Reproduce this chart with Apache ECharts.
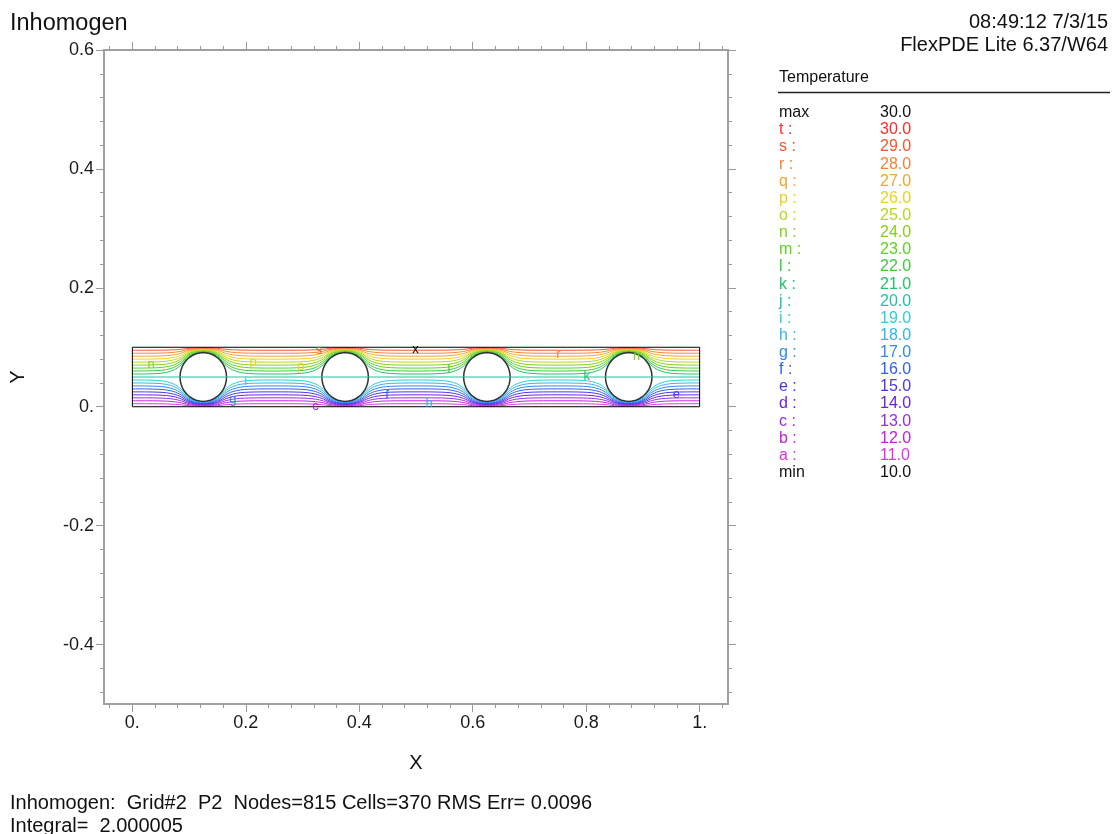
<!DOCTYPE html>
<html><head><meta charset="utf-8">
<script src="https://cdn.jsdelivr.net/npm/echarts@6/dist/echarts.min.js"></script>
<style>html,body{margin:0;padding:0;background:#fff}#c{width:1117px;height:834px}</style>
</head><body><div id="c"></div>
<script>
const FONT = '"Liberation Sans", Arial, sans-serif';

// ---- legend (contour levels) ----
const levelLetters = ['t','s','r','q','p','o','n','m','l','k','j','i','h','g','f','e','d','c','b','a'];
const levelValues  = [30,29,28,27,26,25,24,23,22,21,20,19,18,17,16,15,14,13,12,11];
const levelColors  = ['#ff2a2a','#f8542e','#f5823a','#f0a62c','#e8d41e','#b4d81c','#86d014','#5cd41e','#3ccc38','#22c468','#1ec4a4','#2ccfd8','#30b4f0','#3088f0','#2f5ef0','#4a34f0','#6a22e0','#9a2ae0','#c020e0','#e030e8'];
const maxValue = 30.0;
const minValue = 10.0;
const legendTitle = 'Temperature';

// ---- geometry of the problem ----
const domainX = [0, 1];
const domainY = [0, 0.1];
const circleCentersX = [0.125, 0.375, 0.625, 0.875];
const circleCenterY = 0.05;
const circleRadius = 0.041;
const midLevelY = 0.05;          // level 20 (j)

// ---- contour positions (upper half, one cell, by |dx| from a circle centre) ----
const dxStations = [0, 0.01, 0.02, 0.03, 0.038, 0.045, 0.052, 0.065, 0.08, 0.1, 0.125];
const y21 = [0.0919, 0.0908, 0.0872, 0.0801, 0.0712, 0.0658, 0.0618, 0.0577, 0.0559, 0.0552, 0.0550];
const y22 = [0.0928, 0.0918, 0.0886, 0.0823, 0.0744, 0.0696, 0.0660, 0.0624, 0.0608, 0.0602, 0.0600];
const y23 = [0.0937, 0.0929, 0.0901, 0.0845, 0.0776, 0.0734, 0.0703, 0.0671, 0.0657, 0.0651, 0.0650];
const y24 = [0.0946, 0.0939, 0.0915, 0.0867, 0.0808, 0.0772, 0.0745, 0.0718, 0.0706, 0.0701, 0.0700];
const y25 = [0.0955, 0.0949, 0.0929, 0.0890, 0.0840, 0.0810, 0.0788, 0.0765, 0.0755, 0.0751, 0.0750];
const y26 = [0.0964, 0.0959, 0.0943, 0.0912, 0.0872, 0.0848, 0.0830, 0.0812, 0.0804, 0.0801, 0.0800];
const y27 = [0.0973, 0.0969, 0.0957, 0.0934, 0.0904, 0.0886, 0.0873, 0.0859, 0.0853, 0.0851, 0.0850];
const y28 = [0.0982, 0.0980, 0.0972, 0.0956, 0.0936, 0.0924, 0.0915, 0.0906, 0.0902, 0.0900, 0.0900];
const y29 = [0.0991, 0.0990, 0.0986, 0.0978, 0.0968, 0.0962, 0.0958, 0.0953, 0.0951, 0.0950, 0.0950];
const upperProfiles = [y21, y22, y23, y24, y25, y26, y27, y28, y29];
const upperLevels = [21, 22, 23, 24, 25, 26, 27, 28, 29];

// ---- contour labels seen on the plot ----
const labelText = ['n', 'p', 'p', 's', 'x', 'i', 'g', 'c', 'f', 'h', 'l', 'r', 'k', 'n', 'e'];
const labelX    = [0.033, 0.213, 0.297, 0.329, 0.499, 0.200, 0.177, 0.323, 0.449, 0.523, 0.558, 0.751, 0.801, 0.889, 0.959];
const labelY    = [0.071, 0.075, 0.068, 0.094, 0.097, 0.043, 0.013, 0.001, 0.019, 0.006, 0.063, 0.088, 0.051, 0.085, 0.020];

// ---- axes ----
const xRange = [-0.05, 1.05];
const yRange = [-0.5, 0.6];
const xMajorTicks = [0, 0.2, 0.4, 0.6, 0.8, 1];
const xMinorTicks = [-0.04, 0.04, 0.08, 0.12, 0.16, 0.24, 0.28, 0.32, 0.36, 0.44, 0.48, 0.52, 0.56, 0.64, 0.68, 0.72, 0.76, 0.84, 0.88, 0.92, 0.96, 1.04];
const yMajorTicks = [-0.4, -0.2, 0, 0.2, 0.4, 0.6];
const yMinorTicks = [-0.48, -0.44, -0.36, -0.32, -0.28, -0.24, -0.16, -0.12, -0.08, -0.04, 0.04, 0.08, 0.12, 0.16, 0.24, 0.28, 0.32, 0.36, 0.44, 0.48, 0.52, 0.56];

const titleText = 'Inhomogen';
const stampText = ['08:49:12 7/3/15', 'FlexPDE Lite 6.37/W64'];
const footerText = ['Inhomogen:  Grid#2  P2  Nodes=815 Cells=370 RMS Err= 0.0096', 'Integral=  2.000005'];

function colorOf(level) { return levelColors[levelValues.indexOf(level)]; }
function colorOfLetter(ch) { const i = levelLetters.indexOf(ch); return i < 0 ? '#000' : levelColors[i]; }

function buildLine(profile, mirror) {
  const pts = [];
  circleCentersX.forEach((cx, ci) => {
    const seq = [];
    for (let i = dxStations.length - 1; i >= 0; i--) seq.push([-dxStations[i], profile[i]]);
    for (let i = 1; i < dxStations.length; i++) seq.push([dxStations[i], profile[i]]);
    seq.forEach((p, k) => {
      if (ci > 0 && k === 0) return;
      const y = mirror ? (domainY[1] + domainY[0] - p[1]) : p[1];
      pts.push([cx + p[0], y]);
    });
  });
  return pts;
}

const series = [];
upperProfiles.forEach((prof, i) => {
  const lv = upperLevels[i];
  series.push({ type: 'line', data: buildLine(prof, false), smooth: 0.3, symbol: 'none', silent: true,
    lineStyle: { color: colorOf(lv), width: 1 }, z: 2 });
  const lvLow = 40 - lv;
  series.push({ type: 'line', data: buildLine(prof, true), smooth: 0.3, symbol: 'none', silent: true,
    lineStyle: { color: colorOf(lvLow), width: 1 }, z: 2 });
});

// circles
series.push({
  type: 'custom', z: 3, silent: true,
  data: circleCentersX.map(cx => [cx, circleCenterY, circleRadius]),
  renderItem: function (params, api) {
    const cx = api.value(0), cy = api.value(1), r = api.value(2);
    const pts = [];
    for (let k = 0; k < 40; k++) {
      const a = k / 40 * Math.PI * 2;
      pts.push(api.coord([cx + r * Math.cos(a), cy + r * Math.sin(a)]));
    }
    return { type: 'polygon', shape: { points: pts }, style: { fill: '#fff', stroke: '#333', lineWidth: 1.5 } };
  }
});

// level 20 line through everything
series.push({ type: 'line', data: [[domainX[0], midLevelY], [domainX[1], midLevelY]], symbol: 'none', silent: true,
  lineStyle: { color: colorOf(20), width: 1 }, z: 4 });

// domain boundary
series.push({ type: 'line', data: [[domainX[0], domainY[0]], [domainX[1], domainY[0]], [domainX[1], domainY[1]], [domainX[0], domainY[1]], [domainX[0], domainY[0]]],
  symbol: 'none', silent: true, lineStyle: { color: '#000', width: 1 }, z: 5 });

// contour labels
series.push({
  type: 'custom', z: 6, silent: true,
  data: labelText.map((t, i) => [labelX[i], labelY[i], i]),
  renderItem: function (params, api) {
    const i = api.value(2);
    const p = api.coord([api.value(0), api.value(1)]);
    return { type: 'text', x: p[0], y: p[1], style: { text: labelText[i], fill: colorOfLetter(labelText[i]), font: '13px ' + FONT, align: 'center', verticalAlign: 'middle' } };
  }
});

const AX = '#9a9a9a';
function fmt(v) { if (Math.abs(v) < 1e-9) return '0.'; if (Math.abs(v - 1) < 1e-9) return '1.'; return v.toFixed(1); }
function mkAxis(isX, pos, ticks, len, withLabels, name) {
  const a = {
    type: 'value', position: pos, min: isX ? xRange[0] : yRange[0], max: isX ? xRange[1] : yRange[1],
    axisLine: { show: true, onZero: false, lineStyle: { color: AX, width: 1.5 } },
    axisTick: { show: true, inside: false, length: len, customValues: ticks, lineStyle: { color: AX, width: 1 } },
    axisLabel: withLabels ? { show: true, customValues: ticks, formatter: fmt, fontSize: 18, color: '#1a1a1a', fontFamily: FONT, margin: 10 } : { show: false },
    splitLine: { show: false }
  };
  if (name) {
    a.name = name; a.nameLocation = 'middle';
    a.nameGap = isX ? 49 : 76;
    a.nameTextStyle = { fontSize: 20, color: '#111', fontFamily: FONT };
  }
  return a;
}

const graphic = [];
graphic.push({ type: 'text', x: 10, y: 24, style: { text: titleText, font: '23.5px ' + FONT, fill: '#111', align: 'left', verticalAlign: 'middle' } });
stampText.forEach((t, i) => graphic.push({ type: 'text', x: 1108, y: 22 + i * 23, style: { text: t, font: '20px ' + FONT, fill: '#111', align: 'right', verticalAlign: 'middle' } }));
graphic.push({ type: 'text', x: 779, y: 78, style: { text: legendTitle, font: '16px ' + FONT, fill: '#111', align: 'left', verticalAlign: 'middle' } });
graphic.push({ type: 'line', shape: { x1: 778, y1: 92.5, x2: 1110, y2: 92.5 }, style: { stroke: '#222', lineWidth: 1.5 } });
const rowH = 17.14, row0 = 112.7;
const rows = [['max', maxValue, '#111']].concat(levelLetters.map((l, i) => [l + ' :', levelValues[i], levelColors[i]])).concat([['min', minValue, '#111']]);
rows.forEach((r, i) => {
  graphic.push({ type: 'text', x: 779, y: row0 + i * rowH, style: { text: r[0], font: '16px ' + FONT, fill: r[2], align: 'left', verticalAlign: 'middle' } });
  graphic.push({ type: 'text', x: 880, y: row0 + i * rowH, style: { text: r[1].toFixed(1), font: '16px ' + FONT, fill: r[2], align: 'left', verticalAlign: 'middle' } });
});
footerText.forEach((t, i) => graphic.push({ type: 'text', x: 10, y: 803 + i * 23, style: { text: t, font: '20px ' + FONT, fill: '#111', align: 'left', verticalAlign: 'middle' } }));

const chart = echarts.init(document.getElementById('c'), null, { renderer: 'canvas' });
chart.setOption({
  animation: false,
  backgroundColor: '#fff',
  grid: { left: 104, top: 50, width: 624, height: 654, containLabel: false },
  xAxis: [
    mkAxis(true, 'bottom', xMajorTicks, 8, true, 'X'),
    mkAxis(true, 'bottom', xMinorTicks, 4, false),
    mkAxis(true, 'top', xMajorTicks, 8, false),
    mkAxis(true, 'top', xMinorTicks, 4, false)
  ],
  yAxis: [
    mkAxis(false, 'left', yMajorTicks, 8, true, 'Y'),
    mkAxis(false, 'left', yMinorTicks, 4, false),
    mkAxis(false, 'right', yMajorTicks, 8, false),
    mkAxis(false, 'right', yMinorTicks, 4, false)
  ],
  series: series,
  graphic: graphic
});
</script></body></html>
